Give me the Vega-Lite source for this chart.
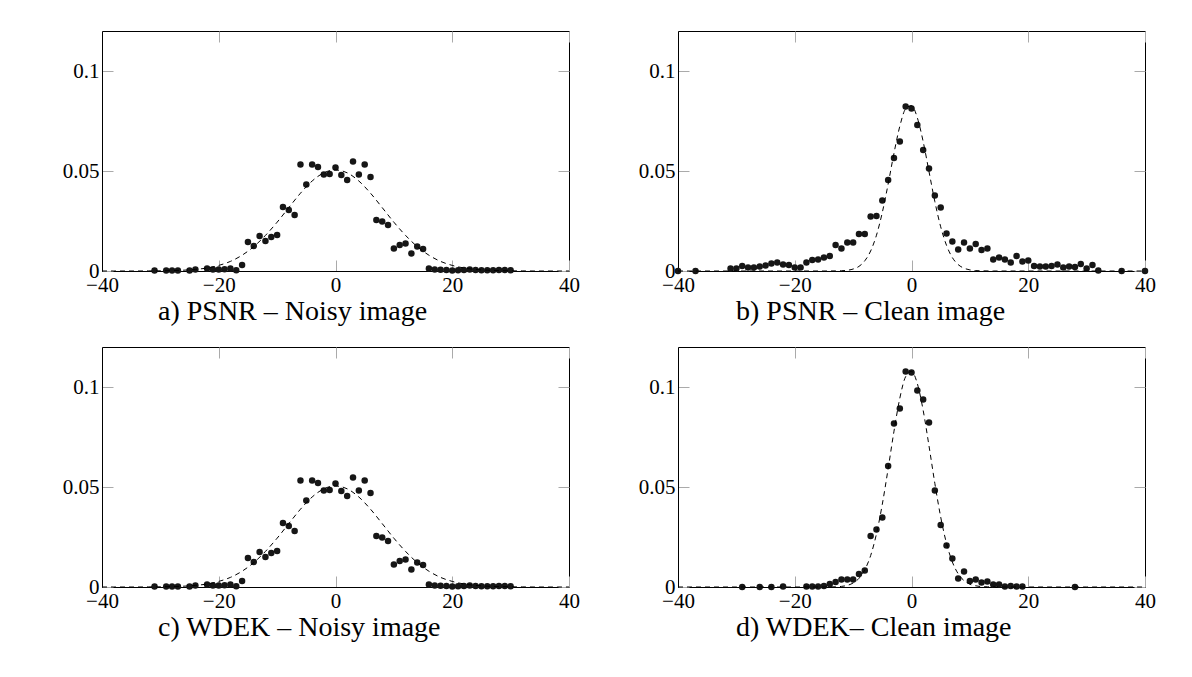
{
"$schema": "https://vega.github.io/schema/vega-lite/v6.json",
"padding": {"left": 61, "top": 30, "right": 0, "bottom": 0},
"background": "white",
"columns": 2,
"spacing": {"row": 76, "column": 109},
"bounds": "flush",
"datasets": {
"pa": [{"x":-31,"y":0.0003},{"x":-29,"y":0.0003},{"x":-28,"y":0.0003},{"x":-27,"y":0.0003},{"x":-25,"y":0.0002},{"x":-24,"y":0.0008},{"x":-22,"y":0.0012},{"x":-21,"y":0.0008},{"x":-20,"y":0.0008},{"x":-19,"y":0.0009},{"x":-18,"y":0.0012},{"x":-17,"y":0.0004},{"x":-16,"y":0.003},{"x":-15,"y":0.0145},{"x":-14,"y":0.0125},{"x":-13,"y":0.0175},{"x":-12,"y":0.015},{"x":-11,"y":0.017},{"x":-10,"y":0.018},{"x":-9,"y":0.032},{"x":-8,"y":0.0305},{"x":-7,"y":0.028},{"x":-6,"y":0.0533},{"x":-5,"y":0.0433},{"x":-4,"y":0.0533},{"x":-3,"y":0.052},{"x":-2,"y":0.0483},{"x":-1,"y":0.0485},{"x":0,"y":0.0518},{"x":1,"y":0.048},{"x":2,"y":0.0455},{"x":3,"y":0.0547},{"x":4,"y":0.0483},{"x":5,"y":0.0533},{"x":6,"y":0.047},{"x":7,"y":0.0255},{"x":8,"y":0.0247},{"x":9,"y":0.023},{"x":10,"y":0.0113},{"x":11,"y":0.013},{"x":12,"y":0.0138},{"x":13,"y":0.0088},{"x":14,"y":0.0122},{"x":15,"y":0.011},{"x":16,"y":0.0013},{"x":17,"y":0.0008},{"x":18,"y":0.0006},{"x":19,"y":0.0005},{"x":20,"y":0.0003},{"x":21,"y":0.0004},{"x":22,"y":0.0005},{"x":23,"y":0.0007},{"x":24,"y":0.0005},{"x":25,"y":0.0004},{"x":26,"y":0.0004},{"x":27,"y":0.0004},{"x":28,"y":0.0005},{"x":29,"y":0.0005},{"x":30,"y":0.0004}],
"ca": [{"x":-40,"y":0},{"x":-38,"y":0},{"x":-36,"y":0},{"x":-34,"y":0},{"x":-32,"y":0.00005},{"x":-30,"y":0.0001},{"x":-28,"y":0.0002},{"x":-26,"y":0.0004},{"x":-24,"y":0.0008},{"x":-22,"y":0.0015},{"x":-20,"y":0.0028},{"x":-18,"y":0.0048},{"x":-16,"y":0.0079},{"x":-14,"y":0.0122},{"x":-12,"y":0.0178},{"x":-10,"y":0.0244},{"x":-8,"y":0.0317},{"x":-6,"y":0.0389},{"x":-4,"y":0.045},{"x":-2,"y":0.0491},{"x":0,"y":0.0505},{"x":2,"y":0.0491},{"x":4,"y":0.045},{"x":6,"y":0.0389},{"x":8,"y":0.0317},{"x":10,"y":0.0244},{"x":12,"y":0.0178},{"x":14,"y":0.0122},{"x":16,"y":0.0079},{"x":18,"y":0.0048},{"x":20,"y":0.0028},{"x":22,"y":0.0015},{"x":24,"y":0.0008},{"x":26,"y":0.0004},{"x":28,"y":0.0002},{"x":30,"y":0.0001},{"x":32,"y":0.00005},{"x":34,"y":0},{"x":36,"y":0},{"x":38,"y":0},{"x":40,"y":0}],
"pb": [{"x":-40,"y":0},{"x":-37,"y":0},{"x":-31,"y":0.0013},{"x":-30,"y":0.0013},{"x":-29,"y":0.0025},{"x":-28,"y":0.0017},{"x":-27,"y":0.0018},{"x":-26,"y":0.0022},{"x":-25,"y":0.0028},{"x":-24,"y":0.0038},{"x":-23,"y":0.0042},{"x":-22,"y":0.0033},{"x":-21,"y":0.003},{"x":-20,"y":0.0018},{"x":-19,"y":0.0018},{"x":-18,"y":0.0042},{"x":-17,"y":0.0055},{"x":-16,"y":0.0058},{"x":-15,"y":0.0068},{"x":-14,"y":0.0075},{"x":-13,"y":0.013},{"x":-12,"y":0.0112},{"x":-11,"y":0.0142},{"x":-10,"y":0.0142},{"x":-9,"y":0.0185},{"x":-8,"y":0.0185},{"x":-7,"y":0.0272},{"x":-6,"y":0.0275},{"x":-5,"y":0.0352},{"x":-4,"y":0.0455},{"x":-3,"y":0.0565},{"x":-2,"y":0.0647},{"x":-1,"y":0.0822},{"x":0,"y":0.0813},{"x":1,"y":0.073},{"x":2,"y":0.0605},{"x":3,"y":0.0513},{"x":4,"y":0.0377},{"x":5,"y":0.0318},{"x":6,"y":0.0188},{"x":7,"y":0.0147},{"x":8,"y":0.0108},{"x":9,"y":0.0142},{"x":10,"y":0.0113},{"x":11,"y":0.0135},{"x":12,"y":0.0105},{"x":13,"y":0.0112},{"x":14,"y":0.0058},{"x":15,"y":0.0068},{"x":16,"y":0.0058},{"x":17,"y":0.0042},{"x":18,"y":0.0075},{"x":19,"y":0.0047},{"x":20,"y":0.0052},{"x":21,"y":0.0025},{"x":22,"y":0.0023},{"x":23,"y":0.0023},{"x":24,"y":0.0025},{"x":25,"y":0.0033},{"x":26,"y":0.0017},{"x":27,"y":0.0022},{"x":28,"y":0.002},{"x":29,"y":0.0035},{"x":30,"y":0.0012},{"x":31,"y":0.003},{"x":32,"y":0.0002},{"x":36,"y":0},{"x":40,"y":0}],
"cb": [{"x":-40,"y":0},{"x":-30,"y":0},{"x":-20,"y":0},{"x":-15,"y":0},{"x":-13,"y":0.00005},{"x":-12,"y":0.00013},{"x":-11,"y":0.00037},{"x":-10,"y":0.00098},{"x":-9,"y":0.0023},{"x":-8,"y":0.0051},{"x":-7,"y":0.01},{"x":-6,"y":0.0179},{"x":-5,"y":0.0293},{"x":-4,"y":0.0435},{"x":-3,"y":0.0589},{"x":-2,"y":0.0724},{"x":-1,"y":0.0811},{"x":0,"y":0.0827},{"x":1,"y":0.0766},{"x":2,"y":0.0647},{"x":3,"y":0.0497},{"x":4,"y":0.0347},{"x":5,"y":0.0221},{"x":6,"y":0.0128},{"x":7,"y":0.0067},{"x":8,"y":0.0032},{"x":9,"y":0.0014},{"x":10,"y":0.00056},{"x":11,"y":0.0002},{"x":12,"y":0.0001},{"x":14,"y":0},{"x":20,"y":0},{"x":30,"y":0},{"x":40,"y":0}],
"pd": [{"x":-29,"y":0},{"x":-26,"y":0},{"x":-24,"y":0},{"x":-22,"y":0.0002},{"x":-18,"y":0.0002},{"x":-17,"y":0.0002},{"x":-16,"y":0.0002},{"x":-15,"y":0.0005},{"x":-14,"y":0.0015},{"x":-13,"y":0.0025},{"x":-12,"y":0.0038},{"x":-11,"y":0.0037},{"x":-10,"y":0.0038},{"x":-9,"y":0.0065},{"x":-8,"y":0.0082},{"x":-7,"y":0.0255},{"x":-6,"y":0.0288},{"x":-5,"y":0.0348},{"x":-4,"y":0.0605},{"x":-3,"y":0.0818},{"x":-2,"y":0.0893},{"x":-1,"y":0.1077},{"x":0,"y":0.1073},{"x":1,"y":0.0982},{"x":2,"y":0.0938},{"x":3,"y":0.0822},{"x":4,"y":0.0482},{"x":5,"y":0.031},{"x":6,"y":0.0207},{"x":7,"y":0.0143},{"x":8,"y":0.0043},{"x":9,"y":0.0077},{"x":10,"y":0.003},{"x":11,"y":0.0038},{"x":12,"y":0.0022},{"x":13,"y":0.0027},{"x":14,"y":0.0013},{"x":15,"y":0.0013},{"x":16,"y":0.0002},{"x":17,"y":0.0005},{"x":18,"y":0.0002},{"x":19,"y":0.0002},{"x":28,"y":0}],
"cd": [{"x":-40,"y":0},{"x":-30,"y":0},{"x":-20,"y":0},{"x":-15,"y":0},{"x":-13,"y":0.0001},{"x":-12,"y":0.0003},{"x":-11,"y":0.0008},{"x":-10,"y":0.002},{"x":-9,"y":0.0043},{"x":-8,"y":0.0086},{"x":-7,"y":0.0157},{"x":-6,"y":0.0266},{"x":-5,"y":0.0414},{"x":-4,"y":0.0592},{"x":-3,"y":0.0779},{"x":-2,"y":0.0944},{"x":-1,"y":0.1052},{"x":0,"y":0.1078},{"x":1,"y":0.1017},{"x":2,"y":0.0883},{"x":3,"y":0.0705},{"x":4,"y":0.0518},{"x":5,"y":0.035},{"x":6,"y":0.0218},{"x":7,"y":0.0125},{"x":8,"y":0.0066},{"x":9,"y":0.0032},{"x":10,"y":0.0014},{"x":11,"y":0.0006},{"x":12,"y":0.0002},{"x":13,"y":0.0001},{"x":15,"y":0},{"x":20,"y":0},{"x":30,"y":0},{"x":40,"y":0}]
},
"concat": [
{"width":467,"height":240,
 "title":{"text":"a) PSNR – Noisy image","orient":"bottom","anchor":"start","frame":"group","dx":56,"offset":3},
 "layer":[
  {"data":{"name":"pa"},"mark":{"type":"circle","size":42,"color":"#161616","opacity":1},
   "encoding":{"x":{"field":"x","type":"quantitative","scale":{"domain":[-40,40],"nice":false},"axis":{"orient":"bottom","values":[-40,-20,0,20,40],"title":null,"labelPadding":14}},
               "y":{"field":"y","type":"quantitative","scale":{"domain":[0,0.12],"nice":false},"axis":{"orient":"left","values":[0,0.05,0.1],"format":"~g","title":null,"labelPadding":14}}}},
  {"data":{"name":"ca"},"mark":{"type":"line","color":"black","strokeWidth":1,"strokeDash":[5,4],"interpolate":"monotone"},
   "encoding":{"x":{"field":"x","type":"quantitative","axis":{"orient":"top","labels":false,"domain":false,"values":[-40,-20,0,20,40],"title":null}},
               "y":{"field":"y","type":"quantitative","axis":{"orient":"right","labels":false,"domain":false,"values":[0,0.05,0.1],"title":null}}}}
 ],
 "resolve":{"axis":{"x":"independent","y":"independent"}}},
{"width":467,"height":240,
 "title":{"text":"b) PSNR – Clean image","orient":"bottom","anchor":"start","frame":"group","dx":58,"offset":3},
 "layer":[
  {"data":{"name":"pb"},"mark":{"type":"circle","size":42,"color":"#161616","opacity":1},
   "encoding":{"x":{"field":"x","type":"quantitative","scale":{"domain":[-40,40],"nice":false},"axis":{"orient":"bottom","values":[-40,-20,0,20,40],"title":null,"labelPadding":14}},
               "y":{"field":"y","type":"quantitative","scale":{"domain":[0,0.12],"nice":false},"axis":{"orient":"left","values":[0,0.05,0.1],"format":"~g","title":null,"labelPadding":14}}}},
  {"data":{"name":"cb"},"mark":{"type":"line","color":"black","strokeWidth":1,"strokeDash":[5,4],"interpolate":"monotone"},
   "encoding":{"x":{"field":"x","type":"quantitative","axis":{"orient":"top","labels":false,"domain":false,"values":[-40,-20,0,20,40],"title":null}},
               "y":{"field":"y","type":"quantitative","axis":{"orient":"right","labels":false,"domain":false,"values":[0,0.05,0.1],"title":null}}}}
 ],
 "resolve":{"axis":{"x":"independent","y":"independent"}}},
{"width":467,"height":240,
 "title":{"text":"c) WDEK – Noisy image","orient":"bottom","anchor":"start","frame":"group","dx":56,"offset":3},
 "layer":[
  {"data":{"name":"pa"},"mark":{"type":"circle","size":42,"color":"#161616","opacity":1},
   "encoding":{"x":{"field":"x","type":"quantitative","scale":{"domain":[-40,40],"nice":false},"axis":{"orient":"bottom","values":[-40,-20,0,20,40],"title":null,"labelPadding":14}},
               "y":{"field":"y","type":"quantitative","scale":{"domain":[0,0.12],"nice":false},"axis":{"orient":"left","values":[0,0.05,0.1],"format":"~g","title":null,"labelPadding":14}}}},
  {"data":{"name":"ca"},"mark":{"type":"line","color":"black","strokeWidth":1,"strokeDash":[5,4],"interpolate":"monotone"},
   "encoding":{"x":{"field":"x","type":"quantitative","axis":{"orient":"top","labels":false,"domain":false,"values":[-40,-20,0,20,40],"title":null}},
               "y":{"field":"y","type":"quantitative","axis":{"orient":"right","labels":false,"domain":false,"values":[0,0.05,0.1],"title":null}}}}
 ],
 "resolve":{"axis":{"x":"independent","y":"independent"}}},
{"width":467,"height":240,
 "title":{"text":"d) WDEK– Clean image","orient":"bottom","anchor":"start","frame":"group","dx":58,"offset":3},
 "layer":[
  {"data":{"name":"pd"},"mark":{"type":"circle","size":42,"color":"#161616","opacity":1},
   "encoding":{"x":{"field":"x","type":"quantitative","scale":{"domain":[-40,40],"nice":false},"axis":{"orient":"bottom","values":[-40,-20,0,20,40],"title":null,"labelPadding":14}},
               "y":{"field":"y","type":"quantitative","scale":{"domain":[0,0.12],"nice":false},"axis":{"orient":"left","values":[0,0.05,0.1],"format":"~g","title":null,"labelPadding":14}}}},
  {"data":{"name":"cd"},"mark":{"type":"line","color":"black","strokeWidth":1,"strokeDash":[5,4],"interpolate":"monotone"},
   "encoding":{"x":{"field":"x","type":"quantitative","axis":{"orient":"top","labels":false,"domain":false,"values":[-40,-20,0,20,40],"title":null}},
               "y":{"field":"y","type":"quantitative","axis":{"orient":"right","labels":false,"domain":false,"values":[0,0.05,0.1],"title":null}}}}
 ],
 "resolve":{"axis":{"x":"independent","y":"independent"}}}
],
"config": {
 "font": "Liberation Serif",
 "view": {"stroke": "black", "strokeWidth": 1},
 "axis": {"grid": false, "domainColor": "black", "domainWidth": 1, "tickColor": "#aaaaaa", "tickWidth": 1, "tickSize": -11, "labelFont": "Liberation Serif", "labelFontSize": 21, "labelColor": "black", "labelPadding": 6, "labelFlush": false, "labelOverlap": false},
 "title": {"font": "Liberation Serif", "fontSize": 28, "fontWeight": "normal", "color": "black"}
}
}
